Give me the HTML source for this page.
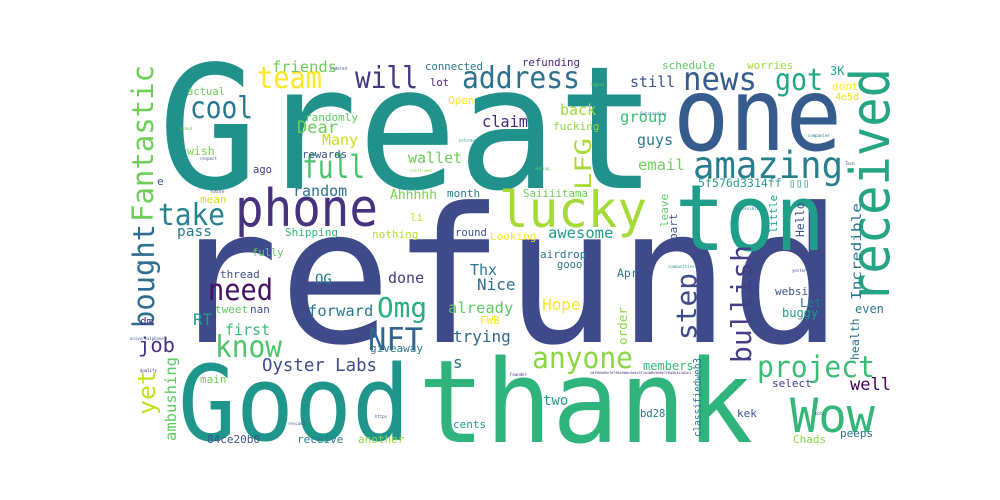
<!DOCTYPE html>
<html><head><meta charset="utf-8"><title>Word cloud</title>
<style>
html,body{margin:0;padding:0;background:#fff;}
svg{display:block;}
text{font-family:"DejaVu Sans Mono","Liberation Mono","Noto Sans CJK SC",monospace;}
</style></head>
<body>
<svg width="1000" height="500" viewBox="0 0 1000 500" xmlns="http://www.w3.org/2000/svg">
<rect x="0" y="0" width="1000" height="500" fill="#fff"/>
<g>
<text x="158" y="188" font-size="171" fill="#21918c" textLength="499" lengthAdjust="spacingAndGlyphs">Great</text>
<text x="166" y="342" font-size="188" fill="#3e4a89" textLength="677" lengthAdjust="spacingAndGlyphs">refund</text>
<text x="178" y="440" font-size="104" fill="#1f968b" textLength="232" lengthAdjust="spacingAndGlyphs">Good</text>
<text x="418" y="442" font-size="115" fill="#2fb47c" textLength="335" lengthAdjust="spacingAndGlyphs">thank</text>
<text x="673" y="150" font-size="102" fill="#365c8d" textLength="169" lengthAdjust="spacingAndGlyphs">one</text>
<text x="675" y="250" font-size="92" fill="#1f9e89" textLength="150" lengthAdjust="spacingAndGlyphs">ton</text>
<text transform="translate(889,303) rotate(-90)" font-size="54" fill="#25a584" textLength="235" lengthAdjust="spacingAndGlyphs">received</text>
<text x="235" y="226" font-size="52" fill="#46327e" textLength="143" lengthAdjust="spacingAndGlyphs">phone</text>
<text x="499" y="227" font-size="50" fill="#a5db36" textLength="148" lengthAdjust="spacingAndGlyphs">lucky</text>
<text x="693" y="178" font-size="37" fill="#277f8e" textLength="150" lengthAdjust="spacingAndGlyphs">amazing</text>
<text x="683" y="90" font-size="32" fill="#365c8d" textLength="74" lengthAdjust="spacingAndGlyphs">news</text>
<text x="775" y="90" font-size="30" fill="#22a785" textLength="48" lengthAdjust="spacingAndGlyphs">got</text>
<text x="462" y="88" font-size="30" fill="#2c728e" textLength="118" lengthAdjust="spacingAndGlyphs">address</text>
<text x="257" y="88" font-size="30" fill="#fde725" textLength="65" lengthAdjust="spacingAndGlyphs">team</text>
<text x="355" y="88" font-size="30" fill="#453781" textLength="63" lengthAdjust="spacingAndGlyphs">will</text>
<text x="190" y="118" font-size="30" fill="#2a768e" textLength="63" lengthAdjust="spacingAndGlyphs">cool</text>
<text x="302" y="178" font-size="32" fill="#4ac16d" textLength="63" lengthAdjust="spacingAndGlyphs">full</text>
<text x="158" y="225" font-size="30" fill="#26828e" textLength="67" lengthAdjust="spacingAndGlyphs">take</text>
<text transform="translate(153,222) rotate(-90)" font-size="29" fill="#6ece58" textLength="157" lengthAdjust="spacingAndGlyphs">Fantastic</text>
<text transform="translate(154,328) rotate(-90)" font-size="29" fill="#2e6e8e" textLength="104" lengthAdjust="spacingAndGlyphs">bought</text>
<text x="208" y="300" font-size="29" fill="#471063" textLength="65" lengthAdjust="spacingAndGlyphs">need</text>
<text x="215" y="357" font-size="30" fill="#50c46a" textLength="67" lengthAdjust="spacingAndGlyphs">know</text>
<text x="368" y="350" font-size="31" fill="#32658e" textLength="55" lengthAdjust="spacingAndGlyphs">NFT</text>
<text x="377" y="317" font-size="28" fill="#2ab07f" textLength="50" lengthAdjust="spacingAndGlyphs">Omg</text>
<text x="532" y="368" font-size="29" fill="#8bd646" textLength="101" lengthAdjust="spacingAndGlyphs">anyone</text>
<text x="757" y="377" font-size="29" fill="#3dbc74" textLength="118" lengthAdjust="spacingAndGlyphs">project</text>
<text x="790" y="432" font-size="47" fill="#35b779" textLength="85" lengthAdjust="spacingAndGlyphs">Wow</text>
<text transform="translate(696,340) rotate(-90)" font-size="28" fill="#3e4989" textLength="67" lengthAdjust="spacingAndGlyphs">step</text>
<text transform="translate(751,363) rotate(-90)" font-size="28" fill="#433e85" textLength="118" lengthAdjust="spacingAndGlyphs">bullish</text>
<text transform="translate(591,190) rotate(-90)" font-size="22" fill="#a8db34" textLength="52" lengthAdjust="spacingAndGlyphs">LFG</text>
<text transform="translate(155,415) rotate(-90)" font-size="24" fill="#c5e021" textLength="45" lengthAdjust="spacingAndGlyphs">yet</text>
<text transform="translate(176,441) rotate(-90)" font-size="15" fill="#5ec962" textLength="84" lengthAdjust="spacingAndGlyphs">ambushing</text>
<text transform="translate(861,300) rotate(-90)" font-size="13.5" fill="#2a788e" textLength="97" lengthAdjust="spacingAndGlyphs">Incredible</text>
<text x="138" y="352" font-size="20" fill="#463480" textLength="37" lengthAdjust="spacingAndGlyphs">job</text>
<text x="262" y="371" font-size="17.5" fill="#3e4c8a" textLength="115" lengthAdjust="spacingAndGlyphs">Oyster Labs</text>
<text x="850" y="390" font-size="17" fill="#440154">well</text>
<text x="482" y="127" font-size="16" fill="#482878" textLength="46" lengthAdjust="spacingAndGlyphs">claim</text>
<text x="272" y="72" font-size="15.4" fill="#6ece58">friends</text>
<text x="425" y="70" font-size="10.7" fill="#2a788e">connected</text>
<text x="430" y="86" font-size="10.5" fill="#481f70">lot</text>
<text x="187" y="95" font-size="10.5" fill="#6ece58">actual</text>
<text x="448" y="104" font-size="11" fill="#fde725">Open</text>
<text x="305" y="121" font-size="11" fill="#5ec962">randomly</text>
<text x="297" y="133" font-size="17" fill="#6ccd5a">Dear</text>
<text x="322" y="145" font-size="15" fill="#c8e020">Many</text>
<text x="187" y="155" font-size="11.5" fill="#7ad151">wish</text>
<text x="302" y="158" font-size="10.7" fill="#3b528b">rewards</text>
<text x="408" y="163" font-size="15" fill="#6ece58">wallet</text>
<text x="253" y="173" font-size="10.5" fill="#443983">ago</text>
<text x="157" y="185" font-size="11" fill="#3b528b">e</text>
<text x="293" y="196" font-size="15" fill="#2c728e">random</text>
<text x="390" y="199" font-size="13" fill="#7ad151">Ahhhhh</text>
<text x="447" y="197" font-size="11" fill="#2a788e">month</text>
<text x="200" y="203" font-size="11" fill="#d8e219">mean</text>
<text x="177" y="236" font-size="14.5" fill="#2a788e">pass</text>
<text x="285" y="236" font-size="11" fill="#35b779">Shipping</text>
<text x="372" y="238" font-size="11" fill="#b5de2b">nothing</text>
<text x="455" y="236" font-size="10.6" fill="#3b528b">round</text>
<text x="410" y="221" font-size="11" fill="#c2df23">li</text>
<text x="490" y="240" font-size="11" fill="#fde725">Looking</text>
<text x="523" y="197" font-size="10.8" fill="#6ccd5a">Saiiiitama</text>
<text x="522" y="66" font-size="10.7" fill="#482878">refunding</text>
<text x="662" y="69" font-size="11" fill="#5ec962">schedule</text>
<text x="747" y="69" font-size="11" fill="#a0da39">worries</text>
<text x="630" y="87" font-size="15" fill="#3b528b">still</text>
<text x="830" y="75" font-size="12" fill="#1f9e89">3K</text>
<text x="832" y="90" font-size="11" fill="#fde725">dont</text>
<text x="835" y="100" font-size="10" fill="#e5e419">4e5d</text>
<text x="560" y="115" font-size="15" fill="#a0da39">back</text>
<text x="553" y="130" font-size="11" fill="#8fd744">fucking</text>
<text x="620" y="122" font-size="15.5" fill="#3fbc73">group</text>
<text x="637" y="145" font-size="15" fill="#2a788e">guys</text>
<text x="638" y="170" font-size="15.5" fill="#6ece58">email</text>
<text x="698" y="187" font-size="11.6" fill="#2a9d8a">5f576d3314ff ▯▯▯</text>
<text x="548" y="238" font-size="15.5" fill="#1f9e89">awesome</text>
<text transform="translate(668,227) rotate(-90)" font-size="11" fill="#5ec962">leave</text>
<text transform="translate(677,240) rotate(-90)" font-size="11" fill="#3b528b">part</text>
<text transform="translate(777,233) rotate(-90)" font-size="10.5" fill="#1f9e89">little</text>
<text transform="translate(804,237) rotate(-90)" font-size="11.5" fill="#3b528b">Hello</text>
<text x="252" y="256" font-size="10.5" fill="#5ec962">fully</text>
<text x="220" y="278" font-size="11" fill="#3b528b">thread</text>
<text x="315" y="284" font-size="14" fill="#2a788e">OG</text>
<text x="388" y="283" font-size="15" fill="#443983">done</text>
<text x="470" y="275" font-size="15" fill="#2a788e">Thx</text>
<text x="477" y="290" font-size="16" fill="#2c728e">Nice</text>
<text x="448" y="313" font-size="15.5" fill="#5ec962">already</text>
<text x="215" y="313" font-size="11" fill="#5ec962">tweet</text>
<text x="250" y="313" font-size="11" fill="#3b528b">nan</text>
<text x="308" y="316" font-size="15.5" fill="#2a788e">forward</text>
<text x="193" y="325" font-size="16" fill="#1f9e89">RT</text>
<text x="225" y="335" font-size="15" fill="#3fbc73">first</text>
<text x="480" y="324" font-size="11" fill="#fde725">FWB</text>
<text x="453" y="342" font-size="16" fill="#31688e">trying</text>
<text x="140" y="325" font-size="11" fill="#482878">dm</text>
<text x="370" y="352" font-size="11" fill="#2a788e">giveaway</text>
<text x="453" y="368" font-size="16" fill="#2c728e">s</text>
<text x="200" y="383" font-size="11" fill="#6ece58">main</text>
<text x="453" y="428" font-size="11" fill="#1f9e89">cents</text>
<text x="207" y="443" font-size="11" fill="#3b528b">84ce20b0</text>
<text x="297" y="443" font-size="11" fill="#2a788e">receive</text>
<text x="358" y="443" font-size="11" fill="#8fd744">another</text>
<text x="540" y="258" font-size="11" fill="#2a788e">airdrop</text>
<text x="557" y="268" font-size="10.5" fill="#2a788e">gooo</text>
<text x="617" y="277" font-size="11.5" fill="#2a788e">Apr</text>
<text x="542" y="310" font-size="16" fill="#fde725">Hope</text>
<text transform="translate(627,345) rotate(-90)" font-size="12.6" fill="#8fd744">order</text>
<text x="775" y="295" font-size="11" fill="#3b528b">website</text>
<text x="800" y="307" font-size="12" fill="#2a788e">Let</text>
<text x="782" y="317" font-size="12" fill="#1f9e89">buggy</text>
<text x="855" y="313" font-size="12" fill="#2a788e">even</text>
<text transform="translate(859,360) rotate(-90)" font-size="11.5" fill="#2c728e">health</text>
<text x="643" y="370" font-size="12" fill="#35b779">members</text>
<text transform="translate(701,437) rotate(-90)" font-size="10.5" fill="#2a788e" textLength="79" lengthAdjust="spacingAndGlyphs">classifiedweb3</text>
<text x="772" y="387" font-size="11" fill="#443983">select</text>
<text x="543" y="405" font-size="14" fill="#1f9e89">two</text>
<text x="640" y="417" font-size="10.5" fill="#2a788e">bd28</text>
<text x="737" y="417" font-size="11" fill="#3b528b">kek</text>
<text x="793" y="443" font-size="11" fill="#8fd744">Chads</text>
<text x="840" y="437" font-size="11" fill="#2c728e">peeps</text>
<text x="330" y="70" font-size="4" fill="#3b528b">ordered</text>
<text x="180" y="130" font-size="4" fill="#6ece58">asked</text>
<text x="200" y="160" font-size="4" fill="#3b528b">respect</text>
<text x="458" y="142" font-size="4" fill="#1f9e89">information</text>
<text x="410" y="172" font-size="4" fill="#8fd744">confirmed</text>
<text x="210" y="193" font-size="4" fill="#443983">future</text>
<text x="590" y="86" font-size="4" fill="#5ec962">legend</text>
<text x="640" y="115" font-size="4" fill="#2a788e">Outstanding</text>
<text x="808" y="137" font-size="4" fill="#2a788e">companies</text>
<text x="845" y="165" font-size="4" fill="#3b528b">Tech</text>
<text x="535" y="170" font-size="4" fill="#5ec962">making</text>
<text x="735" y="210" font-size="4" fill="#2a788e">accessible</text>
<text x="792" y="272" font-size="4" fill="#3b528b">yesterday</text>
<text x="668" y="268" font-size="4" fill="#1f9e89">communities</text>
<text x="510" y="376" font-size="4" fill="#482878">Founder</text>
<text x="590" y="374" font-size="3.5" fill="#482878">c0f9b0d9c7e7f8a9b6c5d4e3f2a1b0c9d8e7f6a5b4c3d2e1</text>
<text x="130" y="340" font-size="4" fill="#3b528b">universalphone</text>
<text x="140" y="372" font-size="4" fill="#482878">qualify</text>
<text x="288" y="425" font-size="4" fill="#3b528b">rescued</text>
<text x="375" y="418" font-size="4" fill="#3b528b">https</text>
<text x="815" y="415" font-size="4" fill="#3b528b">bots</text>
</g>
</svg>
</body></html>
